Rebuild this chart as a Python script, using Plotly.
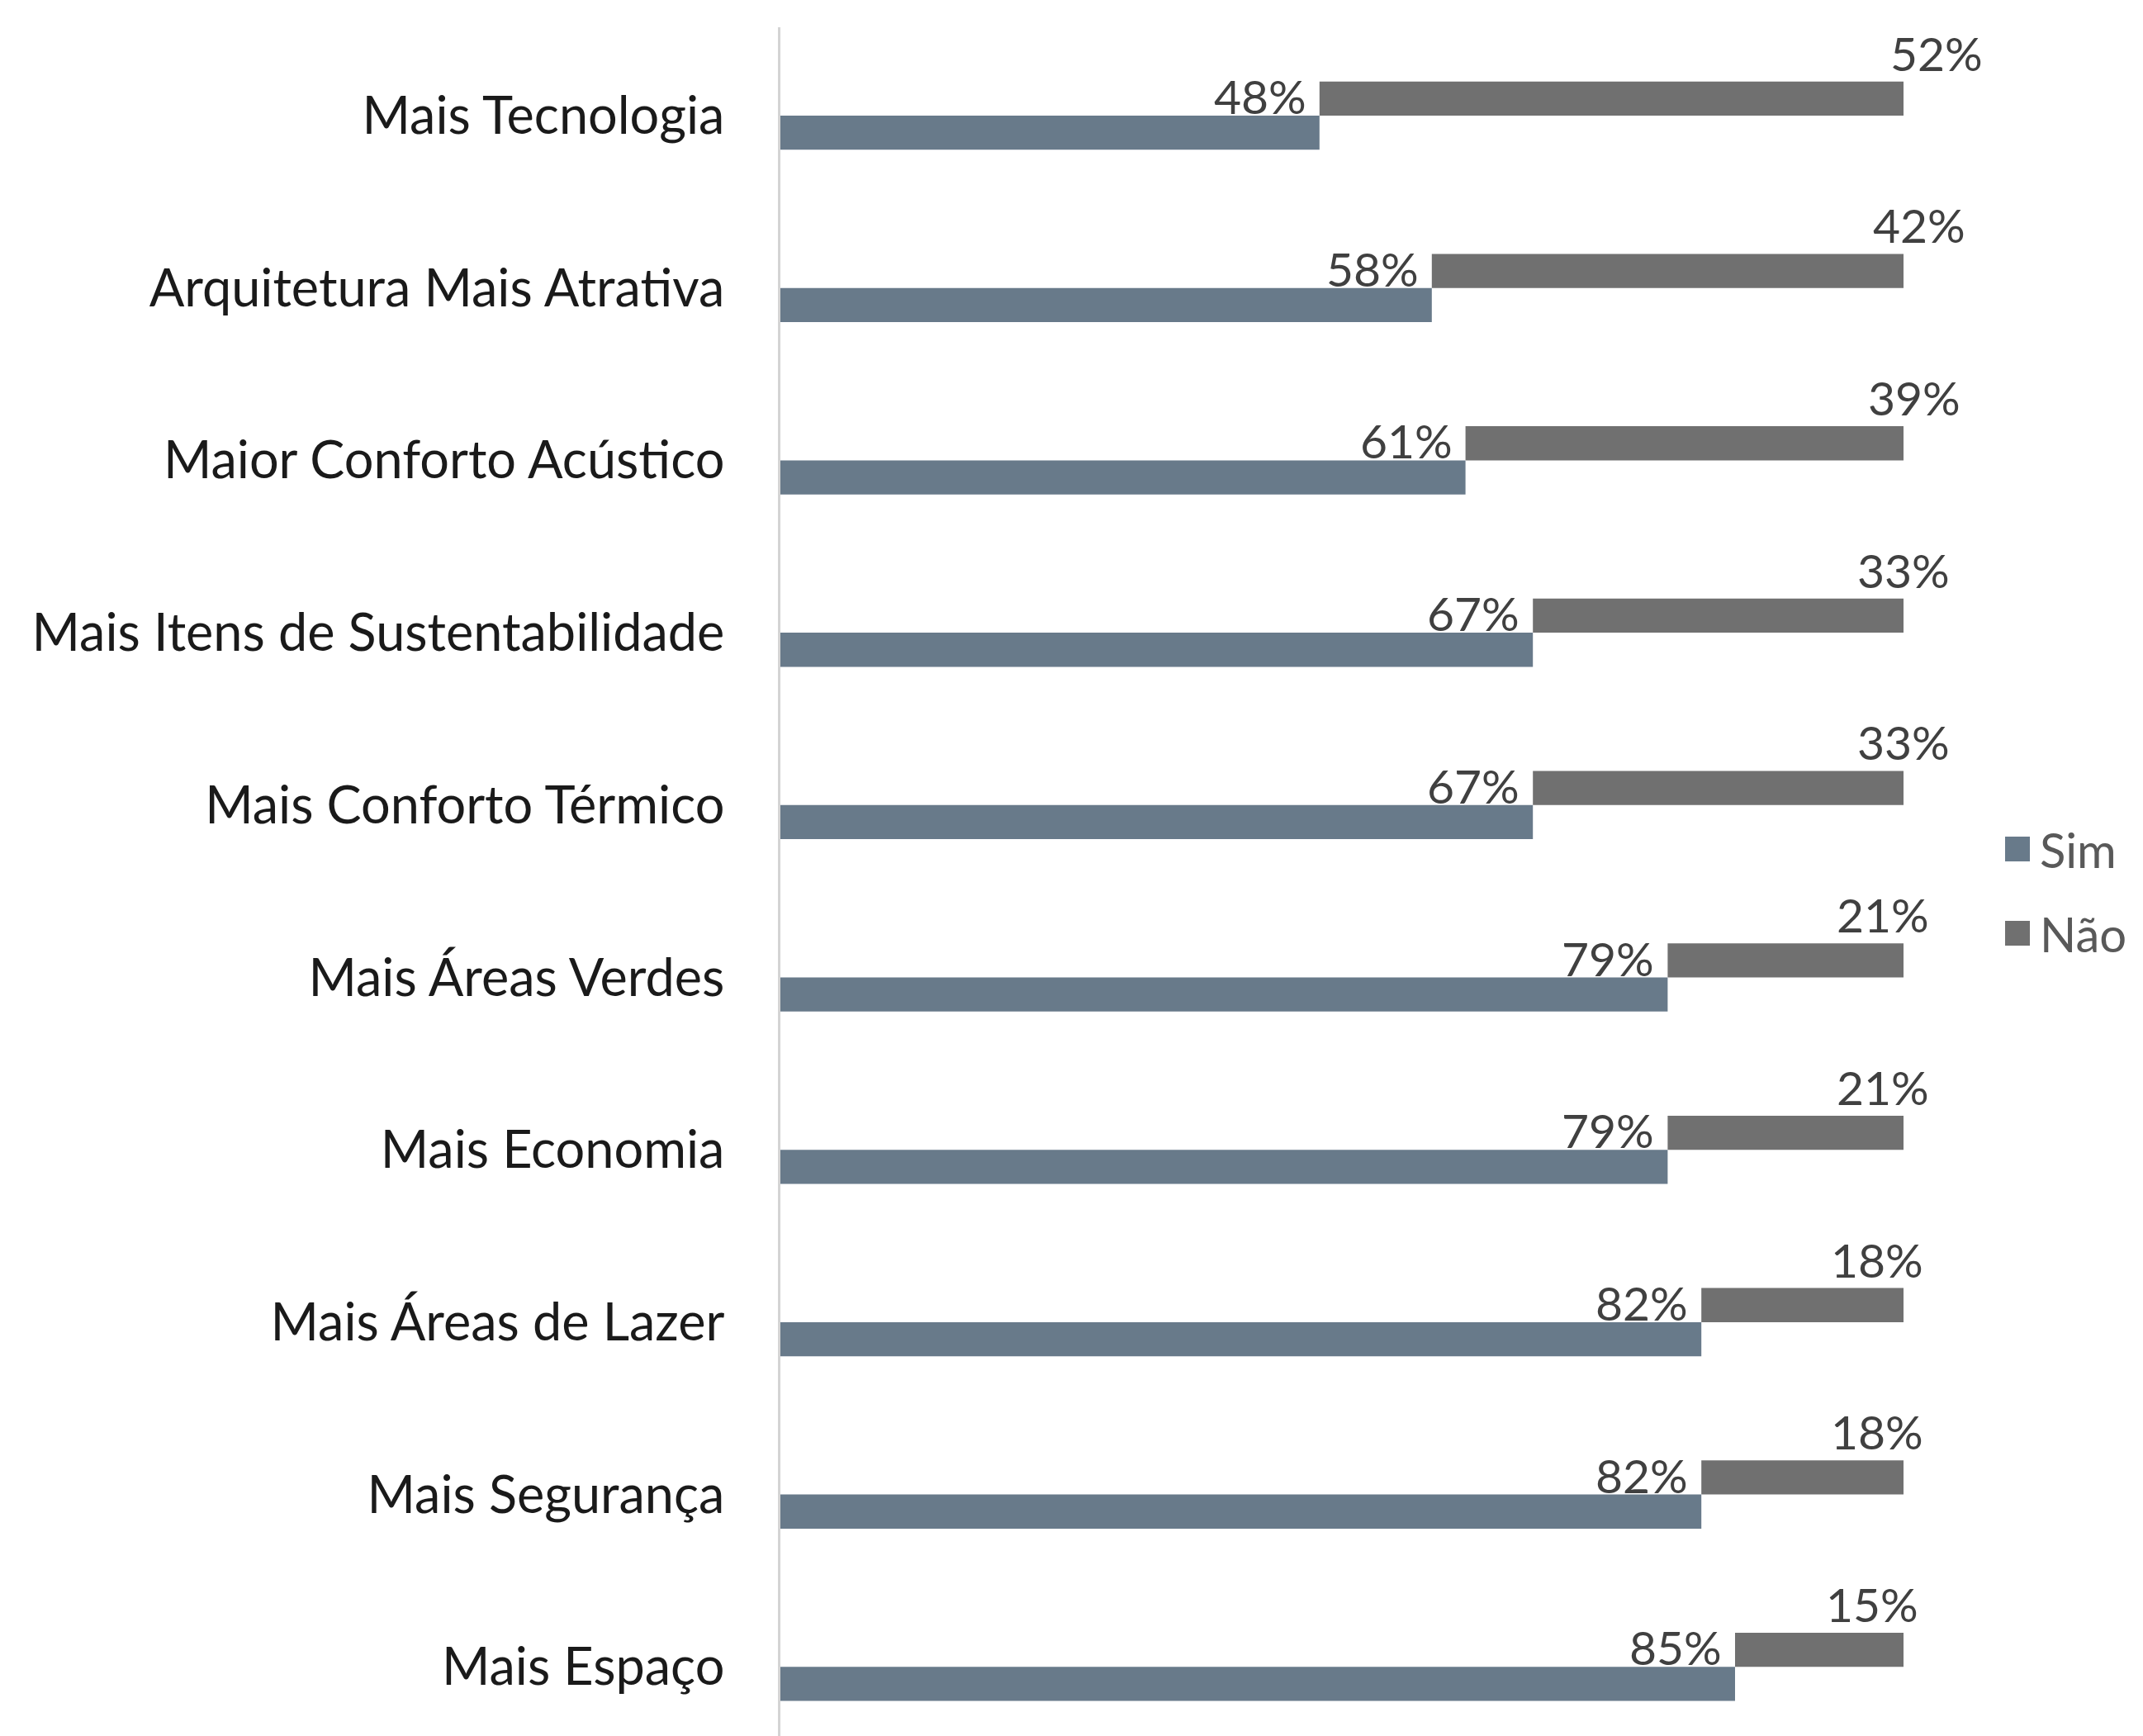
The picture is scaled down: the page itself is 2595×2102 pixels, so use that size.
import plotly.graph_objects as go

categories = ["Mais Tecnologia", "Arquitetura Mais Atrativa", "Maior Conforto Acústico",
              "Mais Itens de Sustentabilidade", "Mais Conforto Térmico", "Mais Áreas Verdes",
              "Mais Economia", "Mais Áreas de Lazer", "Mais Segurança", "Mais Espaço"]
sim = [48, 58, 61, 67, 67, 79, 79, 82, 82, 85]
nao = [52, 42, 39, 33, 33, 21, 21, 18, 18, 15]
series_names = ["Sim", "Não"]

SIM_COLOR = "#687a8a"
NAO_COLOR = "#707070"
FONT = "Lato"
W, H = 2595, 2102
ML, MR, MT, MB = 937, 162, 25, 0
BW = 0.198

fig = go.Figure()
fig.add_trace(go.Bar(name=series_names[0], y=categories, x=sim, orientation="h",
                     marker=dict(color=SIM_COLOR, line=dict(width=0)),
                     offset=0, width=BW, showlegend=False))
fig.add_trace(go.Bar(name=series_names[1], y=categories, x=nao, base=sim, orientation="h",
                     marker=dict(color=NAO_COLOR, line=dict(width=0)),
                     offset=-BW, width=BW, showlegend=False))

annotations = []
for i, (c, s, n) in enumerate(zip(categories, sim, nao)):
    annotations.append(dict(x=s, y=i, xref="x", yref="y", text=f"{s}%", showarrow=False,
                            xanchor="right", yanchor="bottom", xshift=-14, yshift=-12,
                            font=dict(family=FONT, size=57, color="#404040")))
    annotations.append(dict(x=s + n + (n - 33) * 0.155, y=i - BW, xref="x", yref="y",
                            text=f"{n}%", showarrow=False,
                            xanchor="center", yanchor="bottom", yshift=-1,
                            font=dict(family=FONT, size=57, color="#404040")))

pw = W - ML - MR
ph = H - MT - MB
def px(p):
    return (p - ML) / pw
def py(p):
    return (H - MB - p) / ph

shapes = []
for k, (name, col, yc) in enumerate(zip(series_names, [SIM_COLOR, NAO_COLOR], [1020, 1122])):
    shapes.append(dict(type="rect", xref="paper", yref="paper",
                       x0=px(2420), x1=px(2450), y0=py(yc - 15), y1=py(yc + 15),
                       fillcolor=col, line=dict(width=0)))
    annotations.append(dict(x=px(2460), y=py(yc), xref="paper", yref="paper", text=name,
                            showarrow=False, xanchor="left", yanchor="middle",
                            font=dict(family=FONT, size=58, color="#595959")))

# y range so that category spacing ~208.7 px with first center at 132 px
spacing = 208.7
r_top = -(132 - MT) / spacing
r_bot = r_top + ph / spacing

fig.update_layout(
    width=W, height=H, margin=dict(l=ML, r=MR, t=MT, b=MB, pad=0),
    paper_bgcolor="white", plot_bgcolor="white",
    barmode="overlay", showlegend=False,
    xaxis=dict(range=[0, 110], showgrid=False, zeroline=False, showticklabels=False,
               showline=False, fixedrange=True),
    yaxis=dict(type="category", categoryorder="array", categoryarray=categories,
               range=[r_bot, r_top], showgrid=False, zeroline=False,
               showline=True, linecolor="#d4d4d4", linewidth=3,
               ticks="", ticklabelstandoff=52,
               tickfont=dict(family=FONT, size=63, color="#1a1a1a")),
    annotations=annotations, shapes=shapes,
)
fig.write_html("out.html")
